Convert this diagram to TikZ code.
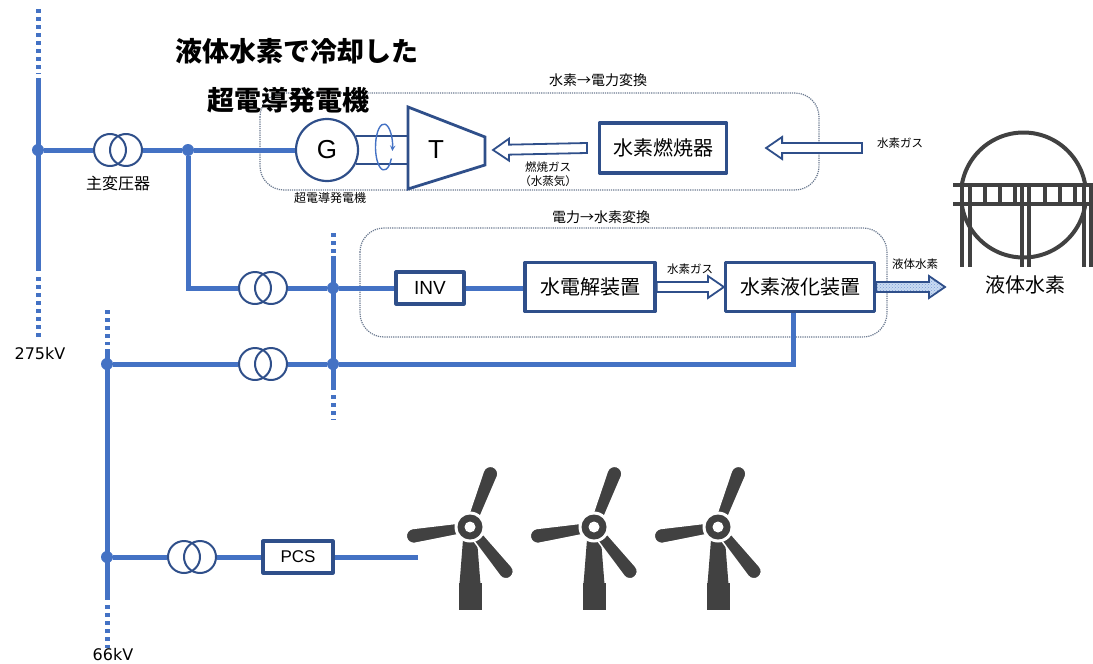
\documentclass[tikz,border=0pt]{standalone}
\usepackage{fontspec}
\setmainfont{Noto Sans CJK JP}
\newfontfamily\latinfont{Liberation Sans}
\newfontfamily\voltfont{DejaVu Sans}
\usetikzlibrary{calc,patterns}

\definecolor{busblue}{HTML}{4472C4}
\definecolor{boxblue}{HTML}{2F4F8A}
\definecolor{framegray}{HTML}{6B7A90}
\definecolor{icongray}{HTML}{414141}
\definecolor{lhblue}{HTML}{C9DBF2}

\tikzset{
  bus/.style={busblue, line width=5pt, line join=miter},
  busdots/.style={busblue, line width=5pt, dash pattern=on 4pt off 4pt},
  junction/.style={circle, fill=busblue, inner sep=0pt, minimum size=12pt},
  coil/.style={circle, draw=boxblue, line width=2pt, inner sep=0pt, minimum size=32pt},
  unit/.style={draw=boxblue, line width=3.2pt, fill=white, inner sep=0pt, font=\fontsize{20}{20}\selectfont},
  group/.style={draw=framegray, densely dotted, line width=1.2pt, rounded corners=24pt},
  blockline/.style={draw=boxblue, line width=1.8pt, line join=miter},
  small/.style={font=\fontsize{11.5}{14}\selectfont},
}

% hollow block arrow between two points (horizontal)
\newcommand{\blockarrow}[3][fill=white]{%
  \draw[blockline, #1]
    ($(#2)+(0,-5)$) -- ($(#3)!16pt!(#2)+(0,-5)$) -- ($(#3)!16pt!(#2)+(0,-11)$)
    -- (#3) -- ($(#3)!16pt!(#2)+(0,11)$) -- ($(#3)!16pt!(#2)+(0,5)$)
    -- ($(#2)+(0,5)$) -- cycle;}

\begin{document}
\begin{tikzpicture}[x=1pt, y=-1pt, line join=round, >=stealth]
\useasboundingbox (0,0) rectangle (1093,664);

% the two conversion groups
\draw[group] (260,93) rectangle (819,190);
\node[font=\fontsize{14}{14}\selectfont] (grp1) at (598,80) {水素→電力変換};
\draw[group] (360,228) rectangle (887,337);
\node[font=\fontsize{14}{14}\selectfont] (grp2) at (601,217) {電力→水素変換};

\node[font=\fontsize{27}{27}\selectfont\bfseries] (title1) at (297,51) {液体水素で冷却した};
\node[font=\fontsize{27}{27}\selectfont\bfseries] (title2) at (288,100) {超電導発電機};

% buses
\draw[busdots] (38,9) -- (38,74);
\draw[bus] (38,78) -- (38,271);
\draw[busdots] (38,277) -- (38,340);
\node[font=\voltfont\fontsize{16}{16}\selectfont] (v275) at (40,354) {275kV};

\draw[busdots] (333,233) -- (333,253);
\draw[bus] (333,256) -- (333,390);
\draw[busdots] (333,395) -- (333,420);

\draw[busdots] (107,310) -- (107,345);
\draw[bus] (107,349) -- (107,600);
\draw[busdots] (107,605) -- (107,648);
\node[font=\voltfont\fontsize{16}{16}\selectfont] (v66) at (113,655) {66kV};

\node[junction] (j1) at (38,150) {};
\node[junction] (j2) at (188,150) {};
\node[junction] (j3) at (333,288) {};
\node[junction] (j4) at (333,364) {};
\node[junction] (j5) at (107,364) {};
\node[junction] (j6) at (107,557) {};

% transformers
\node[coil] (mt1) at (110,150) {};
\node[coil] (mt2) at (126,150) {};
\node[font=\fontsize{16}{16}\selectfont] (mtlbl) at (118,183) {主変圧器};
\node[coil] (t1a) at (255,288) {};
\node[coil] (t1b) at (271,288) {};
\node[coil] (t2a) at (255,364) {};
\node[coil] (t2b) at (271,364) {};
\node[coil] (t3a) at (184,557) {};
\node[coil] (t3b) at (200,557) {};

% generator and turbine
\node[circle, draw=boxblue, line width=2.2pt, minimum size=62pt, inner sep=0pt,
  font=\latinfont\fontsize{26}{26}\selectfont] (gen) at (327,150) {G};
\node[font=\fontsize{12}{12}\selectfont] (genlbl) at (330,198) {超電導発電機};
\coordinate (tin) at (408,150);
\coordinate (tout) at (493,150);
\draw[boxblue, line width=1.6pt] (gen.26) -- (gen.26 -| tin);
\draw[boxblue, line width=1.6pt] (gen.-26) -- (gen.-26 -| tin);
\coordinate (rot) at (384,147);
\draw[busblue, line width=1.4pt, ->] (rot) ++(-330:8.5 and 23)
  arc[start angle=-330, end angle=10, x radius=8.5, y radius=23];
\draw[boxblue, line width=2.8pt, fill=white, line join=miter]
  (408,107) -- (485,137) -- (485,165) -- (408,189) -- cycle;
\node[font=\latinfont\fontsize{26}{26}\selectfont] (tlbl) at (436,150) {T};

\node[unit, minimum width=127pt, minimum height=50pt] (burner) at (663,148) {水素燃焼器};
\coordinate (gasout) at ($(burner.west)+(-11,0)$);
\coordinate (burnin) at ($(burner.east)+(38,0)$);
\coordinate (h2in) at (862,148);
\blockarrow{gasout}{tout}
\blockarrow{h2in}{burnin}
\node[small] (h2gas1) at (900,143) {水素ガス};
\node[small, align=center] (exhaust) at (548,174) {燃焼ガス\\（水蒸気）};

% power to hydrogen
\node[unit, minimum width=68pt, minimum height=32pt,
  font=\latinfont\fontsize{19}{19}\selectfont] (inv) at (430,288) {INV};
\node[unit, minimum width=130pt, minimum height=49pt] (elec) at (590,287) {水電解装置};
\node[unit, minimum width=149pt, minimum height=49pt] (liq) at (800,287) {水素液化装置};
\blockarrow{elec.east}{liq.west}
\node[small] (h2gas2) at (690,269) {水素ガス};
\coordinate (lhend) at (945,287);
\blockarrow[preaction={fill=lhblue}, pattern=crosshatch dots, pattern color=busblue!70]{liq.east}{lhend}
\node[small] (lhlbl) at (915,264) {液体水素};

\node[unit, minimum width=70pt, minimum height=32pt,
  font=\latinfont\fontsize{17}{17}\selectfont] (pcs) at (298,557) {PCS};
\coordinate (windfeed) at (418,557);

% connections
\draw[bus] (j1) -- (mt1.west);
\draw[bus] (mt2.east) -- (j2) -- (gen.west);
\draw[bus] (j2) |- (t1a.west);
\draw[bus] (t1b.east) -- (j3) -- (inv.west);
\draw[bus] (inv.east) -- (inv.east -| elec.west);
\draw[bus] (j5) -- (t2a.west);
\draw[bus] (t2b.east) -- (j4) -| ([xshift=-7pt]liq.south);
\draw[bus] (j6) -- (t3a.west);
\draw[bus] (t3b.east) -- (pcs.west);
\draw[bus] (pcs.east) -- (windfeed);

% wind turbines
\foreach \hx in {470,594,718}{
  \fill[icongray] (\hx-6,527) -- (\hx+6,527) -- (\hx+10.5,584) -- (\hx-10.5,584) -- cycle;
  \fill[icongray] (\hx-11.5,583) rectangle (\hx+11.5,610);
  \foreach \a in {69,-51,-171}
    \filldraw[icongray, draw=white, line width=1.5pt, rotate around={\a:(\hx,527)}]
      (\hx+6,521.5) -- (\hx+57,519.5) arc[start angle=-90, end angle=90, radius=7.5]
      -- (\hx+6,532.5) -- cycle;
  \fill[white] (\hx,527) circle[radius=15.5];
  \fill[icongray] (\hx,527) circle[radius=12.5];
  \fill[white] (\hx,527) circle[radius=5.5];
}

% liquid hydrogen tank
\draw[icongray, line width=4pt] (1023.5,195) circle[radius=62.5];
\fill[white] (953,185) rectangle (1093,204);
\draw[icongray, line width=4.5pt] (953,185) -- (1093,185);
\draw[icongray, line width=4.5pt] (953,204) -- (1093,204);
\foreach \sx in {985,1000,1015,1045,1060,1075}
  \draw[icongray, line width=3.5pt] (\sx,185) -- (\sx,204);
\foreach \lx in {962,970,1022,1029,1084,1091}
  \draw[icongray, line width=3.5pt] (\lx,185) -- (\lx,267);
\node[font=\fontsize{20}{20}\selectfont] (tanklbl) at (1025,285) {液体水素};
\end{tikzpicture}
\end{document}
